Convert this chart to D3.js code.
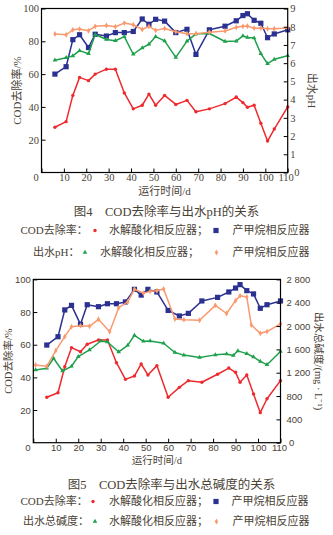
<!DOCTYPE html>
<html><head><meta charset="utf-8">
<script src="https://cdn.jsdelivr.net/npm/d3@7"></script>
<style>
html,body{margin:0;padding:0;background:#fff;}
svg{display:block;}
</style></head>
<body>
<svg id="c" width="333" height="535"></svg>
<script>
// ---------- Data ----------
const xTicks = [0,10,20,30,40,50,60,70,80,90,100,110];
const codTicks = [20,40,60,80,100];
const phTicks = [0,1,2,3,4,5,6,7,8,9];
const alkTicks = [0,400,800,1200,1600,2000,2400,2800];

// Figure 4
const days1 = [6,11,14,17,21,24,29,33,37,41,45,48,51,55,60,65,69,75,82,87,90,92,95,98,101,104,110];
const codHydro1 = [27.6,31,47,58,56,60,63,63,48.5,38.8,41,47.8,41,47,41.5,44,37,38.8,42,46,42.6,39.8,41,30,19.2,26.5,40];
const codMethane1 = [60,64.5,81,84,76.2,84.3,83.2,85.3,85.3,86,93.6,90.4,93.4,92.3,85.3,87.3,72,87,89.2,92.5,95.7,96.8,92.8,91,82.2,84.5,87];
const phHydro1 = [6.16,6.3,6.4,6.69,6.52,7.57,7.3,7.23,7.46,6.49,6.84,7.04,7.46,7.22,6.32,7.21,7.61,7.63,7.19,7.21,7.5,7.41,7.38,6.52,5.97,6.21,6.41];
const phMethane1 = [7.6,7.56,7.83,7.87,7.78,8.02,8.07,8.0,8.2,8.11,7.85,8.02,7.8,7.9,7.72,7.62,7.62,7.7,7.77,7.97,8.02,8.04,7.92,7.93,7.89,7.89,7.93];

// Figure 5
const days2 = [6,11,14,17,21,24,29,33,37,41,45,48,51,55,60,65,69,75,82,87,90,92,95,98,101,104,110];
const codHydro2 = [27.8,30.6,46.5,58.2,55.7,60.3,62.9,62.9,49,38.8,40.8,48.2,41.5,47.2,27.8,33.9,38,37,41.9,45.7,43.1,37,41.5,29.8,18.4,26.9,38];
const codMethane2 = [59.8,64.9,81.3,84.1,72.5,84.5,83.3,85.1,85.1,86.2,93.9,90.4,93.9,92.3,81,77.6,79.2,86.8,89,92.3,94.7,96.8,93.1,91.1,82.3,84.5,86.8];
const alkMethaneDays = [1,6,10,14,17,21,25,29,34,38,42,45,49,52,55,58,63,67,74,81,86,90,92,95,97,101,104,110];
const alkMethane2 = [1333,1310,1578,1818,1990,2007,1996,2116,1904,2315,2413,2631,2565,2595,2605,2636,2122,2110,2100,2355,2215,2436,2518,2500,2020,1875,1905,2036];
const alkHydroDays = [1,6,9,13,17,20,25,30,33,38,42,45,49,52,58,63,67,74,81,86,89,91,95,98,101,104,110];
const alkHydro2 = [1247,1276,1447,1230,1310,1475,1590,1744,1727,1556,1670,1842,1739,1744,1705,1547,1502,1461,1506,1522,1495,1575,1527,1470,1395,1338,1565];

const C = {red:"#ee2a2e", blue:"#2b3190", green:"#1ea04c", orange:"#f99a6e"};
const TXT = "#4a4236";

const svg = d3.select("#c");

function marker(g, type, color, pts){
  if(type==="circle"){
    g.selectAll(null).data(pts).join("circle").attr("cx",d=>d[0]).attr("cy",d=>d[1]).attr("r",1.7).attr("fill",color);
  } else if(type==="square"){
    g.selectAll(null).data(pts).join("rect").attr("x",d=>d[0]-2.6).attr("y",d=>d[1]-2.6).attr("width",5.2).attr("height",5.2).attr("fill",color);
  } else if(type==="triangle"){
    const s = d3.symbol().type(d3.symbolTriangle).size(9);
    g.selectAll(null).data(pts).join("path").attr("transform",d=>`translate(${d[0]},${d[1]})`).attr("d",s).attr("fill",color);
  } else {
    const s = d3.symbol().type(d3.symbolDiamond).size(10);
    g.selectAll(null).data(pts).join("path").attr("transform",d=>`translate(${d[0]},${d[1]})`).attr("d",s).attr("fill",color);
  }
}
function series(g, xs, ys, x, y, color, type){
  const pts = xs.map((d,i)=>[x(d), y(ys[i])]);
  g.append("path").datum(pts).attr("fill","none").attr("stroke",color).attr("stroke-width",1.5)
    .attr("stroke-linejoin","round").attr("d",d3.line());
  marker(g, type, color, pts);
}

function chart(opt){
  const {L,R,T,B,font,fs,rDomain,rTicks,rFmt,rTitle,lTitleX,rTitleX} = opt;
  const g = svg.append("g");
  const x = d3.scaleLinear().domain([0,110]).range([L,R]);
  const y = d3.scaleLinear().domain([0,100]).range([B,T]);
  const y2 = d3.scaleLinear().domain(rDomain).range([B,T]);

  const sg = g.append("g");
  opt.draw(sg, x, y, y2);

  g.append("rect").attr("x",L).attr("y",T).attr("width",R-L).attr("height",B-T)
    .attr("fill","none").attr("stroke","#000").attr("stroke-width",1.2);

  const ax = g.append("g").attr("transform",`translate(0,${B})`)
    .call(d3.axisBottom(x).tickValues(xTicks).tickSizeInner(-4).tickSizeOuter(0).tickPadding(opt.xPad));
  const ay = g.append("g").attr("transform",`translate(${L},0)`)
    .call(d3.axisLeft(y).tickValues(codTicks).tickSizeInner(-4).tickSizeOuter(0).tickPadding(opt.lPad));
  const ay2 = g.append("g").attr("transform",`translate(${R},0)`)
    .call(d3.axisRight(y2).tickValues(rTicks).tickFormat(rFmt).tickSizeInner(-4).tickSizeOuter(0).tickPadding(opt.rPad));
  [ax,ay,ay2].forEach(a=>{
    a.select(".domain").remove();
    a.selectAll(".tick line").attr("stroke","#000").attr("stroke-width",1);
    a.selectAll("text").attr("font-family",font).attr("font-size",fs).attr("fill",TXT);
  });
  ax.selectAll(".tick text").filter(d=>d===0).attr("dx",-6);
  ax.selectAll(".tick text").filter(d=>d===110).attr("dx",opt.lastDx);
  ay2.selectAll(".tick text").filter(d=>d===0).attr("dx",opt.zeroDx);

  const tf = "Liberation Serif, Noto Sans CJK SC";
  g.append("text").attr("transform",`translate(${lTitleX},${(T+B)/2}) rotate(-90)`)
    .attr("text-anchor","middle").attr("dy","0.35em").attr("font-family",tf).attr("font-size",opt.tfs).attr("fill",TXT).text("COD去除率/%");
  g.append("text").attr("transform",`translate(${rTitleX},${(T+B)/2}) rotate(90)`)
    .attr("text-anchor","middle").attr("dy","0.35em").attr("font-family",tf).attr("font-size",opt.tfs).attr("fill",TXT).text(rTitle);
  g.append("text").attr("x",(L+R)/2).attr("y",opt.xTitleY).attr("text-anchor","middle").attr("dy","0.35em")
    .attr("font-family",tf).attr("font-size",opt.tfs).attr("fill",TXT).text("运行时间/d");
}

chart({L:41.5,R:287.7,T:8.5,B:172.5,font:"Liberation Serif",fs:10.5,tfs:11,xPad:1.5,lPad:2.5,rPad:2.5,lastDx:-2,zeroDx:4,
  rDomain:[0,9], rTicks:phTicks, rFmt:d3.format("d"), rTitle:"出水pH", lTitleX:17.5, rTitleX:311.5, xTitleY:191,
  draw:(g,x,y,y2)=>{
    series(g, days1, codHydro1, x, y, C.red, "circle");
    series(g, days1, codMethane1, x, y, C.blue, "square");
    series(g, days1, phHydro1, x, y2, C.green, "triangle");
    series(g, days1, phMethane1, x, y2, C.orange, "diamond");
  }});

chart({L:33.3,R:280.5,T:279.4,B:442.7,font:"Liberation Sans",fs:9.5,tfs:10.5,xPad:1.5,lPad:2.5,rPad:6,lastDx:-1.5,zeroDx:2.5,
  rDomain:[0,2800], rTicks:alkTicks, rFmt:d=>d>=1000?d3.format(",")(d).replace(","," "):String(d),
  rTitle:"出水总碱度/(mg · L⁻¹)", lTitleX:8.5, rTitleX:318.5, xTitleY:460,
  draw:(g,x,y,y2)=>{
    series(g, days2, codHydro2, x, y, C.red, "circle");
    series(g, days2, codMethane2, x, y, C.blue, "square");
    series(g, alkHydroDays, alkHydro2, x, y2, C.green, "triangle");
    series(g, alkMethaneDays, alkMethane2, x, y2, C.orange, "diamond");
  }});

// captions & legends
const capFont = "Liberation Serif, Noto Sans CJK SC";
function txt(x,y,s,fs,anchor){
  svg.append("text").attr("x",x).attr("y",y).attr("dy","0.35em").attr("text-anchor",anchor||"start")
    .attr("font-family",capFont).attr("font-size",fs).attr("fill",TXT).text(s);
}
txt(166.5,211.5,"图4　COD去除率与出水pH的关系",12.5,"middle");
txt(20.5,230.5,"COD去除率：",11);
txt(109,230.5,"水解酸化相反应器；",11);
txt(232.5,230.5,"产甲烷相反应器",11);
txt(33,252.5,"出水pH：",11);
txt(100,252.5,"水解酸化相反应器；",11);
txt(232.5,252.5,"产甲烷相反应器",11);

txt(171.5,484.5,"图5　COD去除率与出水总碱度的关系",12.5,"middle");
txt(20.5,501.5,"COD去除率：",11);
txt(109,501.5,"水解酸化相反应器；",11);
txt(231.5,501.5,"产甲烷相反应器",11);
txt(23,521.5,"出水总碱度：",11);
txt(109,521.5,"水解酸化相反应器；",11);
txt(232.5,521.5,"产甲烷相反应器",11);

const lg = svg.append("g");
marker(lg,"circle",C.red,[[95,230.5],[93,501.5]]);
marker(lg,"square",C.blue,[[216,230.5],[216,501.5]]);
marker(lg,"triangle",C.green,[[85,252.5],[95,521.5]]);
marker(lg,"diamond",C.orange,[[216.5,252.5],[216.5,521.5]]);
</script>
</body></html>
